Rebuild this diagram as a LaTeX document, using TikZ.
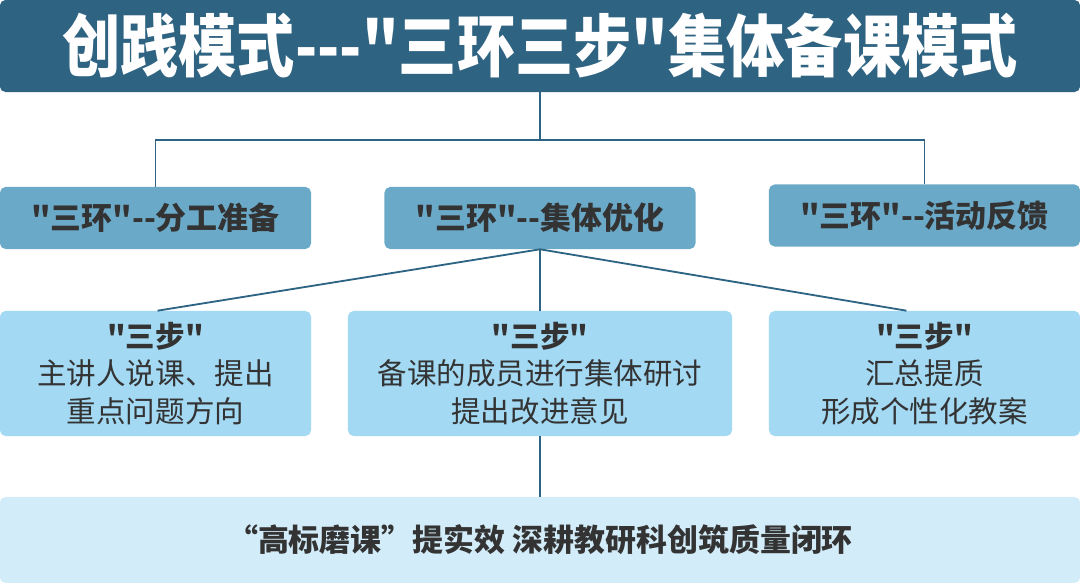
\documentclass[tikz,border=0pt]{standalone}
\usepackage{fontspec}
\newfontfamily\cjk{Noto Sans CJK SC}
\usetikzlibrary{positioning}
\definecolor{azulmar}{RGB}{47,99,130}
\definecolor{azulmedio}{RGB}{107,169,200}
\definecolor{azulcielo}{RGB}{163,217,243}
\definecolor{azulpalido}{RGB}{211,236,249}
\definecolor{azullinea}{RGB}{45,100,131}
\definecolor{grisoscuro}{RGB}{51,51,51}
\tikzset{
  titulo/.style={
    rounded corners=4pt,
    fill=azulmar,
    text=white,
    minimum width=27cm,
    minimum height=2.3cm,
    inner sep=0pt,
    font=\cjk\bfseries\fontsize{46}{50}\selectfont
  },
  anillo/.style={
    rounded corners=4pt,
    fill=azulmedio,
    text=grisoscuro,
    minimum width=7.775cm,
    minimum height=1.55cm,
    inner sep=0pt,
    font=\cjk\bfseries\fontsize{22}{26}\selectfont
  },
  paso/.style={
    rounded corners=4pt,
    fill=azulcielo,
    text=grisoscuro,
    align=center,
    minimum width=7.775cm,
    minimum height=3.125cm,
    inner sep=0pt,
    font=\cjk\fontsize{21}{26.5}\selectfont
  },
  cierre/.style={
    rounded corners=4pt,
    fill=azulpalido,
    text=grisoscuro,
    minimum width=27cm,
    minimum height=2.15cm,
    inner sep=0pt,
    font=\cjk\bfseries\fontsize{22}{26}\selectfont
  },
  linea/.style={
    draw=azullinea,
    line width=1.3pt
  }
}
\begin{document}
\begin{tikzpicture}[x=0.025cm,y=-0.025cm]
\useasboundingbox (0,0) rectangle (1080,583);
\node[titulo] (titulo) at (540,46) {\scalebox{0.9}[1.05]{创践模式---"三环三步"集体备课模式}};
\node[anillo] (a1) at (155.5,218) {"三环"--分工准备};
\node[anillo] (a2) at (540,218) {"三环"--集体优化};
\node[anillo] (a3) at (924.5,215.5) {"三环"--活动反馈};
\node[paso] (p1) at (155.5,373.5) {{\bfseries "三步"}\\主讲人说课、提出\\重点问题方向};
\node[paso,minimum width=9.6cm] (p2) at (540,373.5) {{\bfseries "三步"}\\备课的成员进行集体研讨\\提出改进意见};
\node[paso] (p3) at (924.5,373.5) {{\bfseries "三步"}\\汇总提质\\形成个性化教案};
\node[cierre] (cierre) at (540,540) {“高标磨课”提实效 深耕教研科创筑质量闭环};
\coordinate (cruce) at (540,140);
\draw[linea] (titulo.south) -- (cruce);
\draw[linea] (a1.north) |- (cruce) -| (a3.north);
\draw[linea] (a2.south) -- ([xshift=0.05cm]p1.north);
\draw[linea] (a2.south) -- ([xshift=-0.45cm]p3.north);
\draw[linea] (a2.south) -- (p2.north);
\draw[linea] (p2.south) -- (cierre.north);
\end{tikzpicture}
\end{document}
